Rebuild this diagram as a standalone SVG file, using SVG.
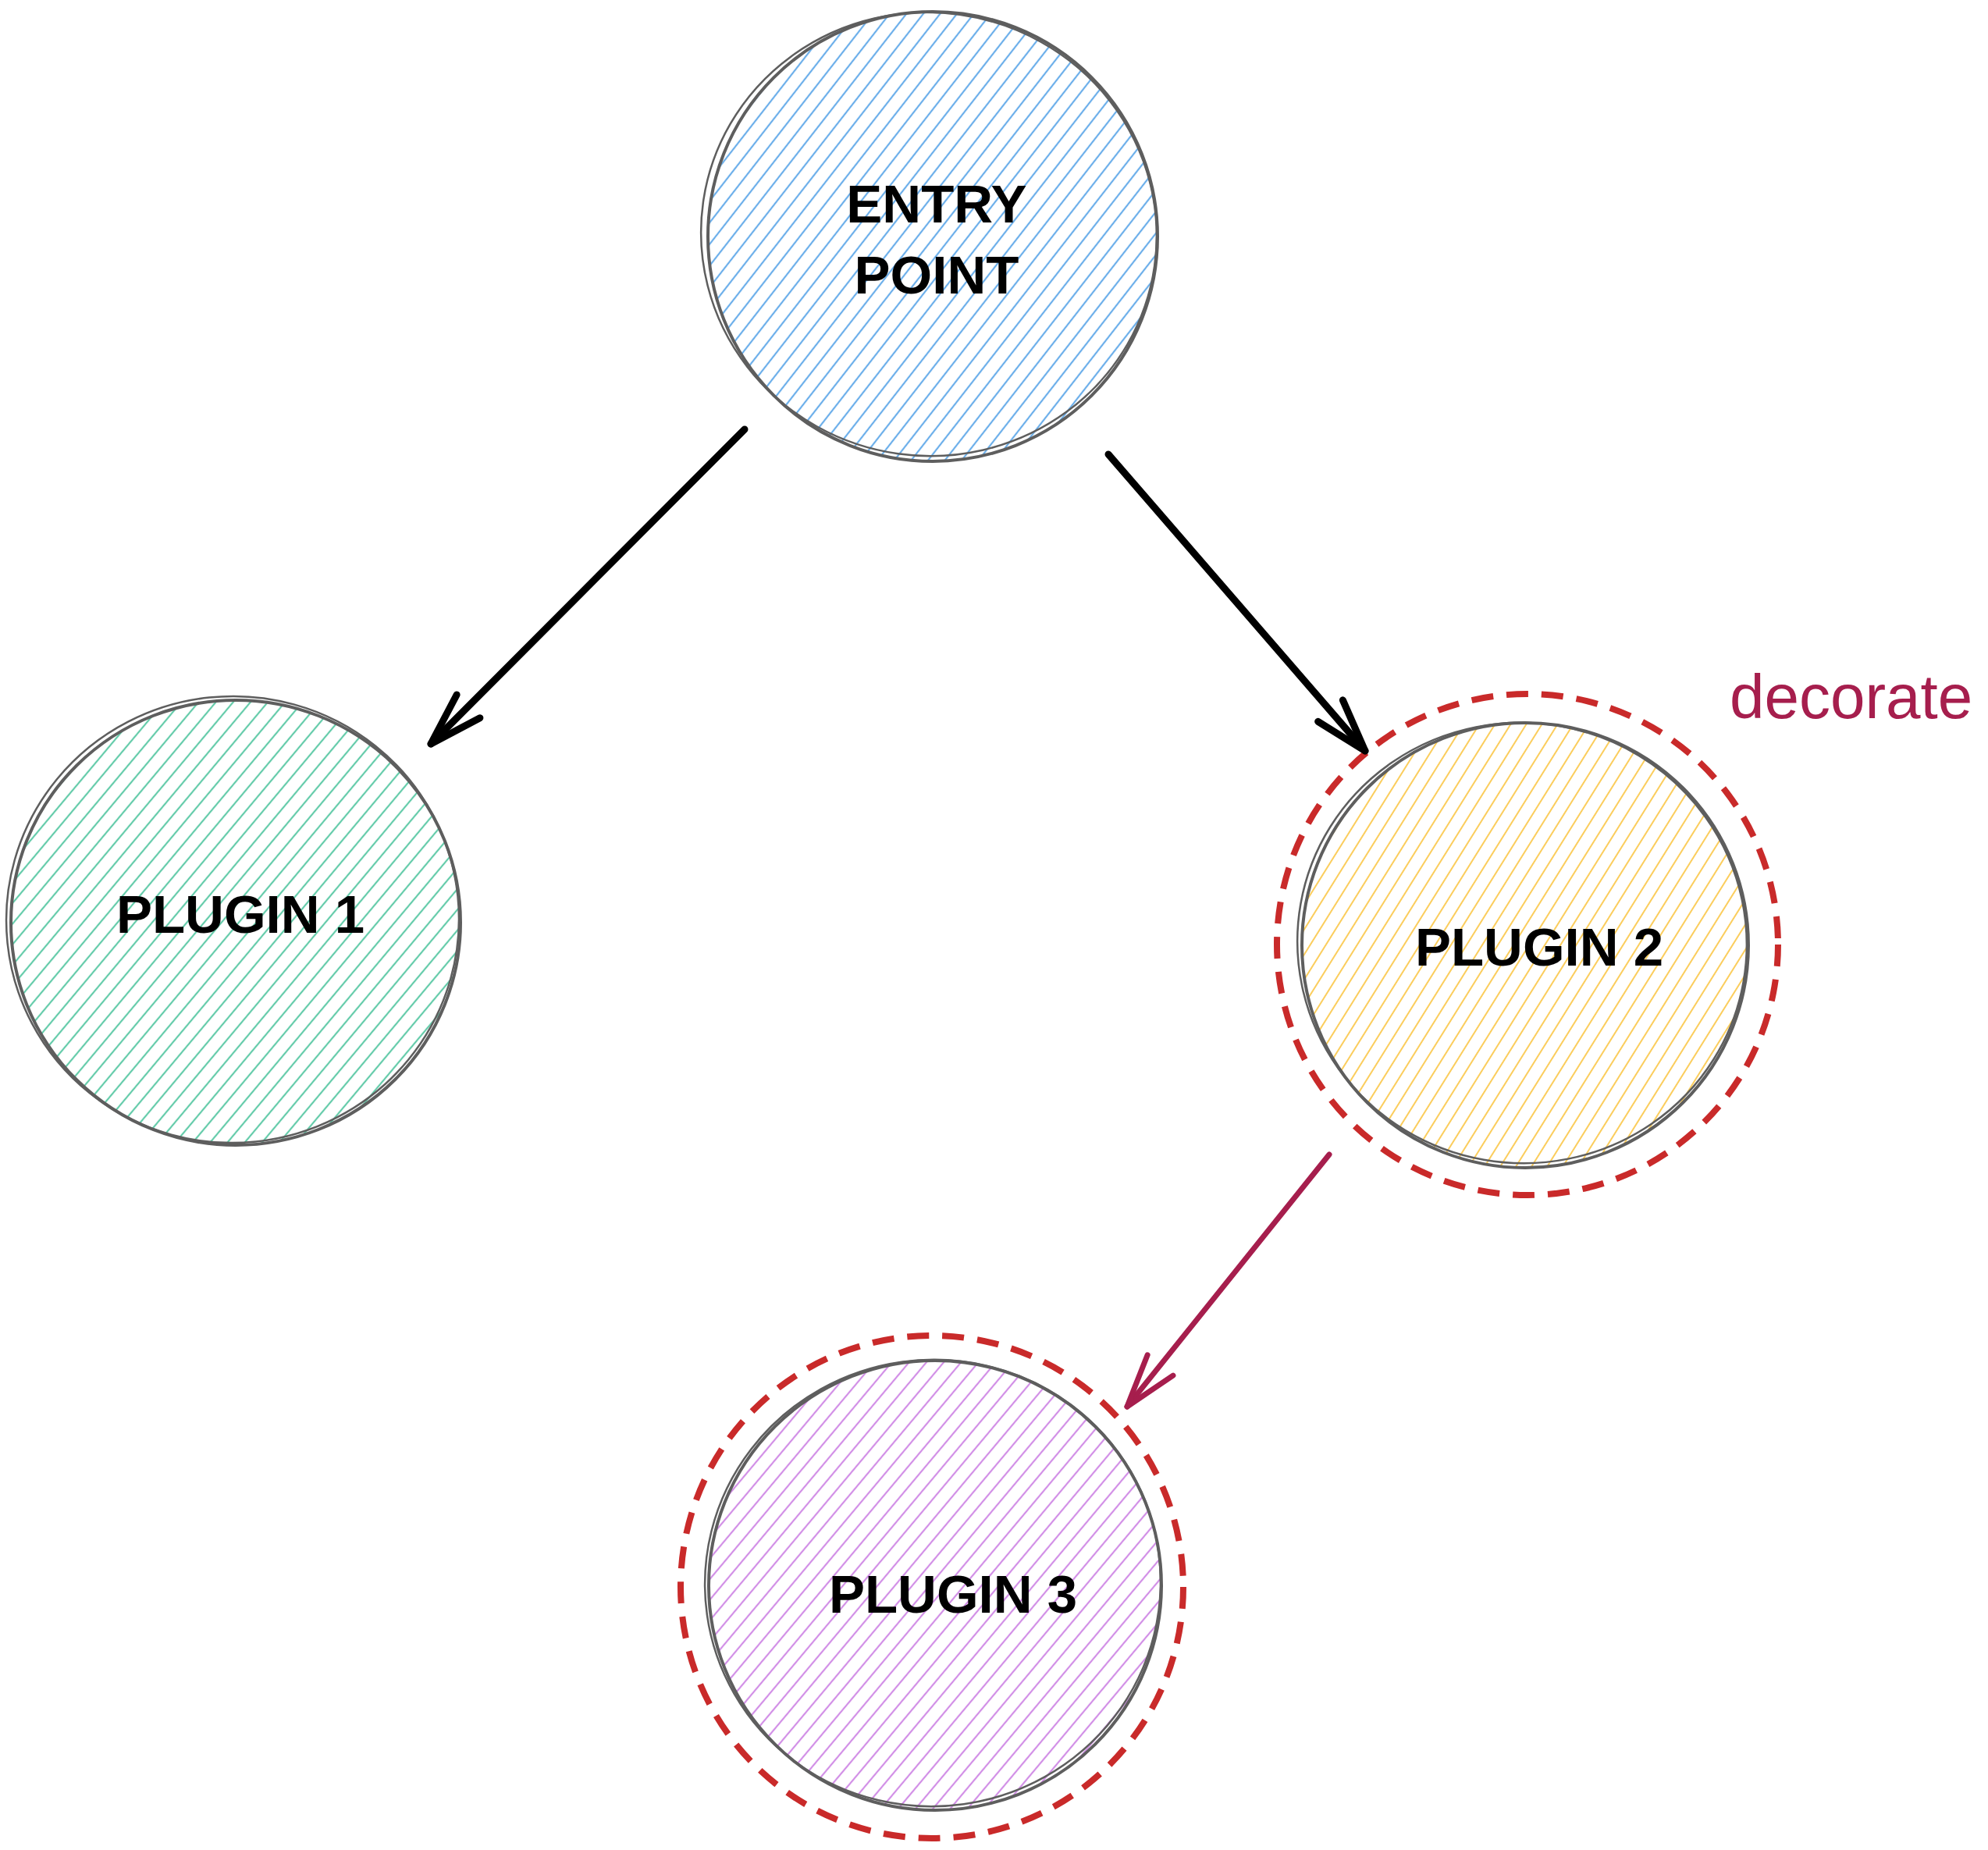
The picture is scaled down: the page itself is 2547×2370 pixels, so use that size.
<svg xmlns="http://www.w3.org/2000/svg" width="2547" height="2370" viewBox="0 0 2547 2370">
<style>
.outline{fill:none;stroke:#5e5e5e;stroke-width:4}
.outline2{fill:none;stroke:#5e5e5e;stroke-width:2.5}
.dashed{fill:none;stroke:#c92a2a;stroke-width:8;stroke-dasharray:28 17}
.label{font-family:"Liberation Sans",Arial,sans-serif;font-weight:700;font-size:69px;fill:#000;text-anchor:middle}
.note{font-family:"Liberation Sans",Arial,sans-serif;font-size:80px;fill:#a61e4d}
.conn{fill:none;stroke-linecap:round}
</style>
<defs>
<pattern id="hBlue" patternUnits="userSpaceOnUse" width="17" height="17" patternTransform="rotate(-52)"><line x1="0" y1="8" x2="17" y2="8" stroke="#6aaeea" stroke-width="2.2"/></pattern>
<pattern id="hGreen" patternUnits="userSpaceOnUse" width="17" height="17" patternTransform="rotate(-50)"><line x1="0" y1="8" x2="17" y2="8" stroke="#63cba9" stroke-width="2.2"/></pattern>
<pattern id="hYellow" patternUnits="userSpaceOnUse" width="17" height="17" patternTransform="rotate(-58)"><line x1="0" y1="8" x2="17" y2="8" stroke="#fbcd5c" stroke-width="2"/></pattern>
<pattern id="hPurple" patternUnits="userSpaceOnUse" width="17" height="17" patternTransform="rotate(-50)"><line x1="0" y1="8" x2="17" y2="8" stroke="#d18ee6" stroke-width="2.2"/></pattern>
<marker id="headBlack" markerUnits="userSpaceOnUse" viewBox="-80 -40 90 80" refX="0" refY="0" markerWidth="90" markerHeight="80" orient="auto">
<path d="M-68,-21 L0,0 L-68,21" fill="none" stroke="#000" stroke-width="9" stroke-linecap="round" stroke-linejoin="round"/>
</marker>
<marker id="headRed" markerUnits="userSpaceOnUse" viewBox="-80 -40 90 80" refX="0" refY="0" markerWidth="90" markerHeight="80" orient="auto">
<path d="M-68,-21 L0,0 L-68,21" fill="none" stroke="#a61e4d" stroke-width="7" stroke-linecap="round" stroke-linejoin="round"/>
</marker>
</defs>
<rect width="2547" height="2370" fill="#ffffff"/>

<g id="entry-point">
<ellipse cx="1195" cy="303" rx="288" ry="288" fill="url(#hBlue)"/>
<ellipse class="outline" cx="1195" cy="303" rx="288" ry="288"/>
<ellipse class="outline2" cx="1190" cy="300" rx="292" ry="284" transform="rotate(8 1190 300)"/>
<text class="label" x="1200" y="285">ENTRY</text>
<text class="label" x="1200" y="376">POINT</text>
</g>

<g id="plugin-1">
<ellipse cx="302" cy="1182" rx="288" ry="285" fill="url(#hGreen)"/>
<ellipse class="outline" cx="302" cy="1182" rx="288" ry="285"/>
<ellipse class="outline2" cx="298" cy="1178" rx="290" ry="286" transform="rotate(-6 298 1178)"/>
<text class="label" x="308" y="1195">PLUGIN 1</text>
</g>

<g id="plugin-2">
<circle class="dashed" cx="1957" cy="1210" r="321"/>
<ellipse cx="1954" cy="1211" rx="286" ry="285" fill="url(#hYellow)"/>
<ellipse class="outline" cx="1954" cy="1211" rx="286" ry="285"/>
<ellipse class="outline2" cx="1950" cy="1208" rx="288" ry="282" transform="rotate(10 1950 1208)"/>
<text class="label" x="1972" y="1237">PLUGIN 2</text>
</g>

<g id="plugin-3">
<circle class="dashed" cx="1194" cy="2033" r="322"/>
<ellipse cx="1198" cy="2031" rx="290" ry="288" fill="url(#hPurple)"/>
<ellipse class="outline" cx="1198" cy="2031" rx="290" ry="288"/>
<ellipse class="outline2" cx="1195" cy="2028" rx="292" ry="286" transform="rotate(-8 1195 2028)"/>
<text class="label" x="1221" y="2066">PLUGIN 3</text>
</g>

<g id="decorate-label">
<text class="note" x="2216" y="920">decorate</text>
</g>

<g id="connectors">
<line class="conn" x1="954" y1="550" x2="552" y2="953" stroke="#000" stroke-width="9" marker-end="url(#headBlack)"/>
<line class="conn" x1="1420" y1="582" x2="1749" y2="962" stroke="#000" stroke-width="9" marker-end="url(#headBlack)"/>
<line class="conn" x1="1703" y1="1479" x2="1444" y2="1802" stroke="#a61e4d" stroke-width="7" marker-end="url(#headRed)"/>
</g>
</svg>
